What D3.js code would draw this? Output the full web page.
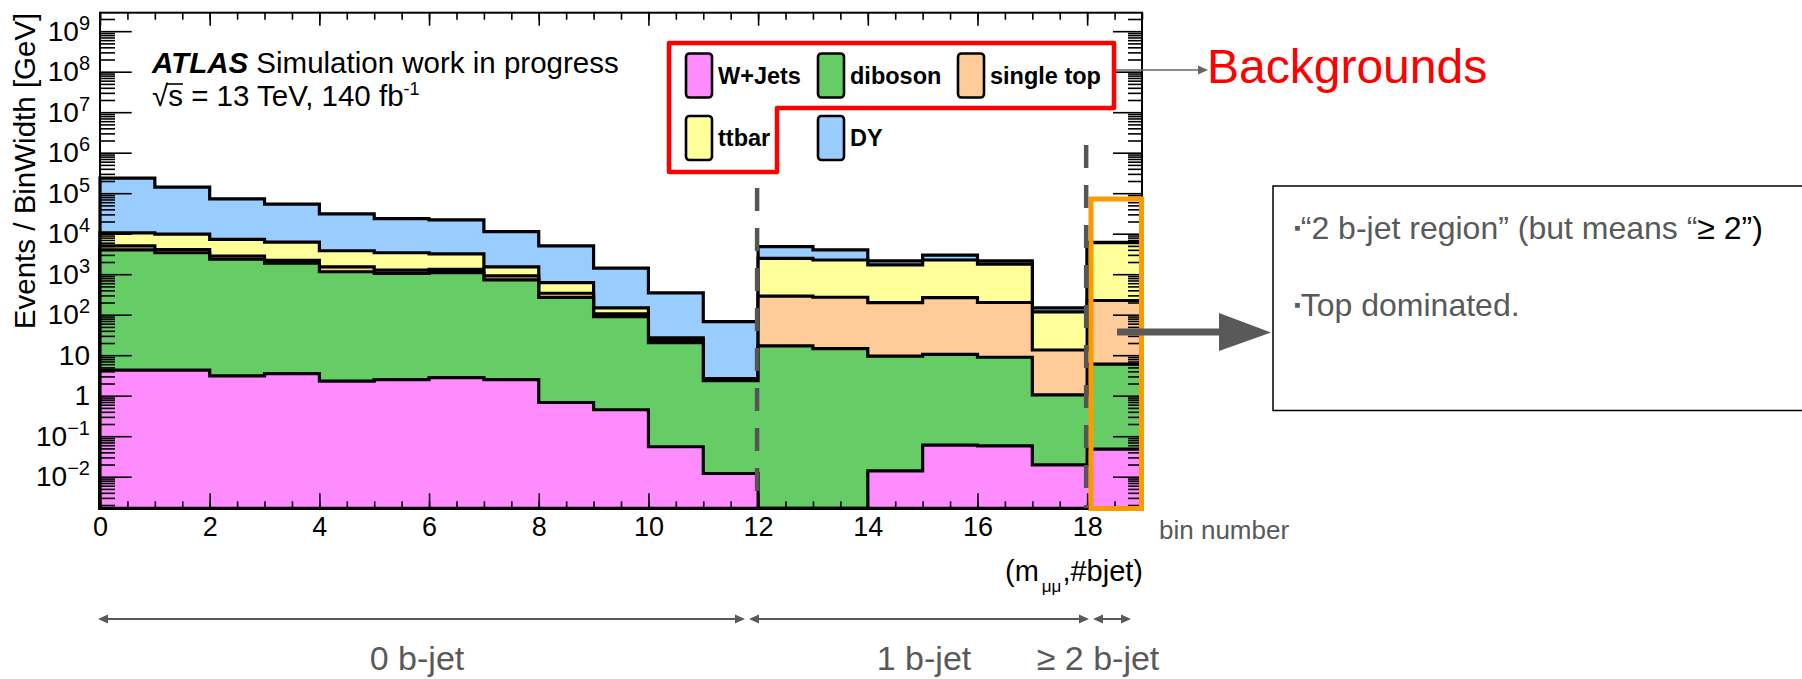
<!DOCTYPE html>
<html>
<head>
<meta charset="utf-8">
<script src="https://cdn.jsdelivr.net/npm/d3@7"></script>
<style>
  html, body { margin: 0; padding: 0; background: #fff; }
  svg { display: block; }
  text { font-family: "Liberation Sans", Arial, Helvetica, sans-serif; }
</style>
</head>
<body>
<svg id="chart" width="1802" height="679"></svg>
<script>
// ---- data: stacked background yields per (m_mumu, #bjet) bin ----
const bins = d3.range(19);
const seriesNames = ["W+Jets", "diboson", "single top", "ttbar", "DY"];
const wJets     = [4.3, 4.3, 3.1, 3.5, 2.3, 2.5, 2.8, 2.5, 0.68, 0.45, 0.055, 0.012, 0, 0, 0.014, 0.060, 0.058, 0.0195, 0.048];
const diboson   = [3980, 3380, 2340, 1858, 1146, 1045, 1093, 722, 268, 88.7, 20.3, 2.33, 17.0, 14.5, 9.5, 10.4, 8.85, 1.03, 5.98];
const singleTop = [1030, 690, 475, 330, 360, 212, 222, 188, 70, 16, 3.6, 0.17, 271, 255, 190, 253, 191, 12.4, 218];
const ttbar     = [5460, 5700, 4430, 3980, 2290, 2130, 1845, 602, 278, 43, 2.9, 0.12, 2167, 1970, 1500, 1976, 1578, 104, 5800];
const dy        = [224000, 131500, 65200, 47500, 27100, 20050, 18700, 9700, 4395, 1265, 320, 65, 2330, 1742, 440, 712, 360, 30, 120];

const xTicks = [0, 2, 4, 6, 8, 10, 12, 14, 16, 18];
const yTickValues = [1e-2, 1e-1, 1, 10, 1e2, 1e3, 1e4, 1e5, 1e6, 1e7, 1e8, 1e9];
const yTickBase   = ["10", "10", "1", "10", "10", "10", "10", "10", "10", "10", "10", "10"];
const yTickSup    = ["\u22122", "\u22121", "", "", "2", "3", "4", "5", "6", "7", "8", "9"];

const colors = {
  "W+Jets": "#ff8cff",
  "diboson": "#66cc66",
  "single top": "#ffcc99",
  "ttbar": "#ffff99",
  "DY": "#99ccff"
};

// ---- layout ----
const frame = { left: 100, right: 1142, top: 12.7, bottom: 508.3 };
const yDomain = [1.66e-3, 2.86e9];
const x = d3.scaleLinear().domain([0, 19]).range([frame.left, frame.right]);
const y = d3.scaleLog().domain(yDomain).range([frame.bottom, frame.top]).clamp(true);
const yv = v => (v > yDomain[0] ? y(v) : frame.bottom);

const svg = d3.select("#chart");
svg.append("rect").attr("width", 1802).attr("height", 679).attr("fill", "#fff");

// ---- stacked histograms ----
const table = bins.map((b, i) => ({
  bin: b,
  "W+Jets": wJets[i],
  "diboson": diboson[i],
  "single top": singleTop[i],
  "ttbar": ttbar[i],
  "DY": dy[i]
}));
const layers = d3.stack().keys(seriesNames)(table);

const histArea = d3.area()
  .curve(d3.curveStepAfter)
  .x(d => x(d.x))
  .y0(frame.bottom)
  .y1(d => yv(d.v));

const histG = svg.append("g");
// total first, each lower cumulative layer painted on top of it
layers.slice().reverse().forEach(layer => {
  const pts = layer.map((d, i) => ({ x: i, v: d[1] }));
  pts.push({ x: bins.length, v: layer[layer.length - 1][1] });
  histG.append("path")
    .attr("d", histArea(pts))
    .attr("fill", colors[layer.key])
    .attr("stroke", "#000")
    .attr("stroke-width", 3.2)
    .attr("stroke-linejoin", "miter");
});

// ---- axes (ROOT style, ticks pointing inward) ----
const yMinor = [];
for (let k = -3; k <= 9; k++) {
  for (let m = 2; m <= 9; m++) {
    const v = m * Math.pow(10, k);
    if (v > yDomain[0] && v < yDomain[1]) yMinor.push(v);
  }
}
const xMinor = d3.range(0, 19.01, 0.5);
const noLabel = () => "";
const tidy = g => {
  g.select(".domain").remove();
  g.selectAll(".tick line").attr("stroke", "#000").attr("stroke-width", 1.6);
};

const axG = svg.append("g");

// left
axG.append("g").attr("transform", `translate(${frame.left},0)`)
  .call(d3.axisLeft(y).tickValues(yMinor).tickSizeInner(-15).tickSizeOuter(0).tickFormat(noLabel))
  .call(tidy);
const yLeft = axG.append("g").attr("transform", `translate(${frame.left},0)`)
  .call(d3.axisLeft(y).tickValues(yTickValues).tickSizeInner(-31.7).tickSizeOuter(0).tickPadding(10).tickFormat(noLabel))
  .call(tidy);
yLeft.attr("font-family", null).attr("font-size", null);
yLeft.selectAll(".tick text")
  .attr("font-size", 28).attr("fill", "#000")
  .each(function (d, i) {
    const t = d3.select(this);
    t.text(yTickBase[i]);
    if (yTickSup[i]) {
      t.append("tspan").attr("dy", "-0.55em").attr("font-size", 20).text(yTickSup[i]);
    }
  });

// right
axG.append("g").attr("transform", `translate(${frame.right},0)`)
  .call(d3.axisRight(y).tickValues(yMinor).tickSizeInner(-14).tickSizeOuter(0).tickFormat(noLabel))
  .call(tidy);
axG.append("g").attr("transform", `translate(${frame.right},0)`)
  .call(d3.axisRight(y).tickValues(yTickValues).tickSizeInner(-29).tickSizeOuter(0).tickFormat(noLabel))
  .call(tidy);

// bottom
axG.append("g").attr("transform", `translate(0,${frame.bottom})`)
  .call(d3.axisBottom(x).tickValues(xMinor).tickSizeInner(-7).tickSizeOuter(0).tickFormat(noLabel))
  .call(tidy);
const xBottom = axG.append("g").attr("transform", `translate(0,${frame.bottom})`)
  .call(d3.axisBottom(x).tickValues(xTicks).tickSizeInner(-15).tickSizeOuter(0).tickPadding(9).tickFormat(d3.format("d")))
  .call(tidy);
xBottom.attr("font-family", null).attr("font-size", null);
xBottom.selectAll(".tick text").attr("font-size", 27).attr("fill", "#000");

// top
axG.append("g").attr("transform", `translate(0,${frame.top})`)
  .call(d3.axisTop(x).tickValues(xMinor).tickSizeInner(-7).tickSizeOuter(0).tickFormat(noLabel))
  .call(tidy);
axG.append("g").attr("transform", `translate(0,${frame.top})`)
  .call(d3.axisTop(x).tickValues(xTicks).tickSizeInner(-13).tickSizeOuter(0).tickFormat(noLabel))
  .call(tidy);

// frame
svg.append("rect")
  .attr("x", frame.left).attr("y", frame.top)
  .attr("width", frame.right - frame.left).attr("height", frame.bottom - frame.top)
  .attr("fill", "none").attr("stroke", "#000").attr("stroke-width", 2);

// axis titles
svg.append("text")
  .attr("transform", `translate(35,${frame.top}) rotate(-90)`)
  .attr("text-anchor", "end")
  .attr("font-size", 29.5).attr("fill", "#000")
  .text("Events / BinWidth [GeV]");

const xTitle = svg.append("text")
  .attr("x", frame.right + 1).attr("y", 581)
  .attr("text-anchor", "end")
  .attr("font-size", 29).attr("fill", "#000");
xTitle.append("tspan").text("(m");
xTitle.append("tspan").attr("dy", 11).attr("dx", 3).attr("font-size", 17).text("\u03bc\u03bc");
xTitle.append("tspan").attr("dy", -11).attr("dx", 1).text(",#bjet)");

// ATLAS label
const atlas = svg.append("text").attr("x", 152).attr("y", 72.5).attr("font-size", 29.5).attr("fill", "#000");
atlas.append("tspan").attr("font-weight", "bold").attr("font-style", "italic").text("ATLAS");
atlas.append("tspan").text(" Simulation work in progress");

const lumiBase = 106;
const lumi = svg.append("text").attr("x", 152).attr("y", lumiBase).attr("font-size", 29.5).attr("fill", "#000");
lumi.append("tspan").text("\u221as = 13 TeV, 140 fb");
lumi.append("tspan").attr("dy", -11).attr("font-size", 18).text("-1");
// overbar of the square root
{
  const node = lumi.node();
  const r = node.getExtentOfChar(0);
  const s = node.getExtentOfChar(1);
  svg.append("line")
    .attr("x1", r.x + r.width - 2).attr("x2", s.x + s.width)
    .attr("y1", lumiBase - 22).attr("y2", lumiBase - 22)
    .attr("stroke", "#000").attr("stroke-width", 1.6);
}

// ---- legend ----
const legendItems = [
  { key: "W+Jets",     sx: 686, row: 0 },
  { key: "diboson",    sx: 818, row: 0 },
  { key: "single top", sx: 958, row: 0 },
  { key: "ttbar",      sx: 686, row: 1 },
  { key: "DY",         sx: 818, row: 1 }
];
const rowTop = [53.5, 116];
const legG = svg.append("g");
legendItems.forEach(it => {
  legG.append("rect")
    .attr("x", it.sx).attr("y", rowTop[it.row])
    .attr("width", 26).attr("height", 44)
    .attr("rx", 3.5)
    .attr("fill", colors[it.key]).attr("stroke", "#000").attr("stroke-width", 2.6);
  legG.append("text")
    .attr("x", it.sx + 32).attr("y", rowTop[it.row] + 30)
    .attr("font-size", 23.5).attr("font-weight", "bold").attr("fill", "#000")
    .text(it.key);
});

// ---- overlays ----
// outline around the background legend
svg.append("path")
  .attr("d", "M669,43 L1114,43 L1114,108 L777,108 L777,172 L669,172 Z")
  .attr("fill", "none").attr("stroke", "#ff0000").attr("stroke-width", 4.5)
  .attr("stroke-linejoin", "round");

// thin pointer to the "Backgrounds" caption
svg.append("line").attr("x1", 1116).attr("y1", 70).attr("x2", 1199).attr("y2", 70)
  .attr("stroke", "#666").attr("stroke-width", 1.6);
svg.append("path").attr("d", "M1198,65.5 L1208,70 L1198,74.5 Z").attr("fill", "#666");
svg.append("text")
  .attr("x", 1207).attr("y", 83)
  .attr("font-size", 48).attr("fill", "#ff0000")
  .text("Backgrounds");

// highlight of the last bin
svg.append("rect")
  .attr("x", 1091).attr("y", 199)
  .attr("width", 1141.5 - 1091).attr("height", 508.5 - 199)
  .attr("fill", "none").attr("stroke", "#ff9900").attr("stroke-width", 5);

// region separators
[[12, 188], [18, 145]].forEach(([b, top]) => {
  svg.append("line")
    .attr("x1", x(b) - 1).attr("x2", x(b) - 1)
    .attr("y1", top).attr("y2", frame.bottom)
    .attr("stroke", "#555").attr("stroke-width", 4.5)
    .attr("stroke-dasharray", "23,17");
});

// thick arrow to the note box
svg.append("rect").attr("x", 1117).attr("y", 328.5).attr("width", 103).attr("height", 7).attr("fill", "#595959");
svg.append("path").attr("d", "M1219,313 L1271,332.5 L1219,351 Z").attr("fill", "#595959");

// note box
svg.append("rect")
  .attr("x", 1273).attr("y", 186).attr("width", 560).attr("height", 224.5)
  .attr("fill", "#fff").attr("stroke", "#000").attr("stroke-width", 1.5);

const note1 = svg.append("text").attr("x", 1294).attr("y", 239).attr("font-size", 32).attr("fill", "#595959");
note1.append("tspan").attr("font-size", 19).attr("dy", -5).text("\u25aa");
note1.append("tspan").attr("dy", 5).text("\u201c2 b-jet region\u201d (but means \u201c");
note1.append("tspan").attr("fill", "#000").text("\u2265 2\u201d)");

const note2 = svg.append("text").attr("x", 1294).attr("y", 316).attr("font-size", 32).attr("fill", "#595959");
note2.append("tspan").attr("font-size", 19).attr("dy", -5).text("\u25aa");
note2.append("tspan").attr("dy", 5).text("Top dominated.");

// x-axis note
svg.append("text")
  .attr("x", 1159).attr("y", 539)
  .attr("font-size", 26).attr("fill", "#595959")
  .text("bin number");

// b-jet multiplicity ranges
const spanArrows = [
  { x1: 98,   x2: 745,  label: "0 b-jet",        lx: 417 },
  { x1: 749,  x2: 1089, label: "1 b-jet",        lx: 924 },
  { x1: 1093, x2: 1131, label: "\u2265 2 b-jet", lx: 1098 }
];
const arrowY = 619;
spanArrows.forEach(a => {
  svg.append("line").attr("x1", a.x1 + 6).attr("x2", a.x2 - 6)
    .attr("y1", arrowY).attr("y2", arrowY)
    .attr("stroke", "#595959").attr("stroke-width", 2);
  svg.append("path")
    .attr("d", `M${a.x1},${arrowY} L${a.x1 + 10},${arrowY - 4.5} L${a.x1 + 10},${arrowY + 4.5} Z`)
    .attr("fill", "#595959");
  svg.append("path")
    .attr("d", `M${a.x2},${arrowY} L${a.x2 - 10},${arrowY - 4.5} L${a.x2 - 10},${arrowY + 4.5} Z`)
    .attr("fill", "#595959");
  svg.append("text")
    .attr("x", a.lx).attr("y", 670)
    .attr("text-anchor", "middle")
    .attr("font-size", 34).attr("fill", "#595959")
    .text(a.label);
});
</script>
</body>
</html>
